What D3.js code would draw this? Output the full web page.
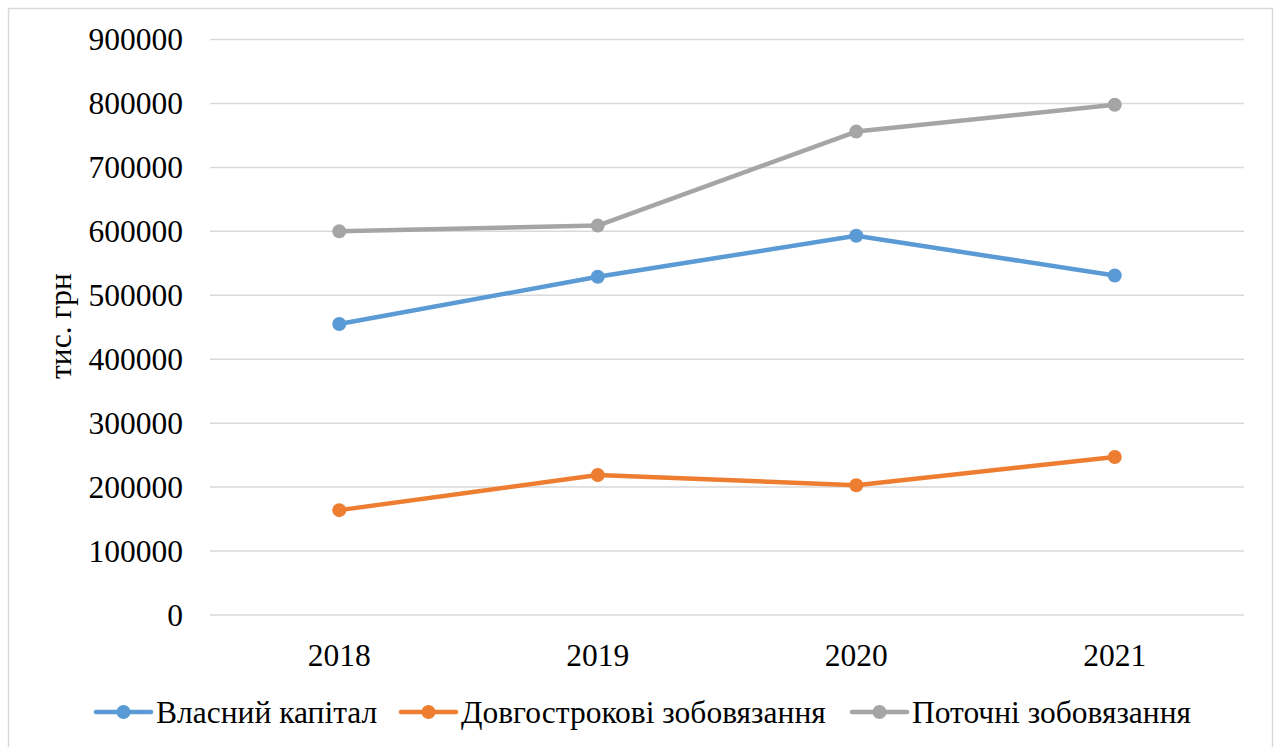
<!DOCTYPE html>
<html>
<head>
<meta charset="utf-8">
<script src="https://cdnjs.cloudflare.com/ajax/libs/d3/7.8.5/d3.min.js"></script>
<style>
  body { margin: 0; background: #fff; }
  svg text { font-family: 'Liberation Serif', 'Times New Roman', serif; fill: #000; }
</style>
</head>
<body>
<div id="chart"></div>
<script>
// data
var years = ["2018", "2019", "2020", "2021"];
var equity = [455000, 529000, 593000, 531000];
var longTerm = [164000, 219000, 203000, 247000];
var current = [600000, 609000, 756000, 798000];
var seriesNames = ["Власний капітал", "Довгострокові зобовязання", "Поточні зобовязання"];
var colors = ["#5b9bd5", "#ed7d31", "#a5a5a5"];
var yTicks = [0, 100000, 200000, 300000, 400000, 500000, 600000, 700000, 800000, 900000];

var width = 1274,
    height = 747,
    fontSize = "31.5px";

var margin = {top: 39.5, left: 210, right: 30, bottom: 132};

var svg = d3.select("#chart")
  .append("svg")
    .attr("width", width)
    .attr("height", height);

// chart frame
svg.append("rect")
  .attr("x", 8.5)
  .attr("y", 8.5)
  .attr("width", 1264)
  .attr("height", 760)
  .attr("fill", "none")
  .attr("stroke", "#d9d9d9")
  .attr("stroke-width", 1.5);

var x = d3.scaleBand()
  .domain(years)
  .range([margin.left, width - margin.right]);

var y = d3.scaleLinear()
  .domain([0, 900000])
  .range([615, margin.top]);

// gridlines
svg.append("g")
  .selectAll("line")
  .data(yTicks)
  .enter()
  .append("line")
    .attr("x1", margin.left)
    .attr("x2", width - margin.right)
    .attr("y1", function(d) { return y(d); })
    .attr("y2", function(d) { return y(d); })
    .attr("stroke", "#d9d9d9")
    .attr("stroke-width", 1.5);

// y tick labels
svg.append("g")
  .selectAll("text")
  .data(yTicks)
  .enter()
  .append("text")
    .attr("x", 183)
    .attr("y", function(d) { return y(d); })
    .attr("dy", "0.34em")
    .attr("text-anchor", "end")
    .style("font-size", fontSize)
    .text(function(d) { return d; });

// x tick labels
svg.append("g")
  .selectAll("text")
  .data(years)
  .enter()
  .append("text")
    .attr("x", function(d) { return x(d) + x.bandwidth() / 2; })
    .attr("y", 666)
    .attr("text-anchor", "middle")
    .style("font-size", fontSize)
    .text(function(d) { return d; });

// y axis title
svg.append("text")
  .attr("transform", "translate(71,326) rotate(-90)")
  .attr("text-anchor", "middle")
  .style("font-size", fontSize)
  .text("тис. грн");

var allSeries = [equity, longTerm, current];

var line = d3.line()
  .x(function(d, i) { return x(years[i]) + x.bandwidth() / 2; })
  .y(function(d) { return y(d); });

allSeries.forEach(function(values, s) {
  svg.append("path")
    .datum(values)
    .attr("d", line)
    .attr("fill", "none")
    .attr("stroke", colors[s])
    .attr("stroke-width", 4.5)
    .attr("stroke-linejoin", "round");

  svg.append("g")
    .selectAll("circle")
    .data(values)
    .enter()
    .append("circle")
      .attr("cx", function(d, i) { return x(years[i]) + x.bandwidth() / 2; })
      .attr("cy", function(d) { return y(d); })
      .attr("r", 7)
      .attr("fill", colors[s]);
});

// legend
var legendX = [96, 401, 852];
var legend = svg.append("g");
seriesNames.forEach(function(name, s) {
  var lx = legendX[s];
  legend.append("line")
    .attr("x1", lx).attr("x2", lx + 55)
    .attr("y1", 712).attr("y2", 712)
    .attr("stroke", colors[s])
    .attr("stroke-width", 4.5)
    .attr("stroke-linecap", "round");
  legend.append("circle")
    .attr("cx", lx + 27.5)
    .attr("cy", 712)
    .attr("r", 7)
    .attr("fill", colors[s]);
  legend.append("text")
    .attr("x", lx + 60)
    .attr("y", 712)
    .attr("dy", "0.34em")
    .style("font-size", fontSize)
    .text(name);
});
</script>
</body>
</html>
